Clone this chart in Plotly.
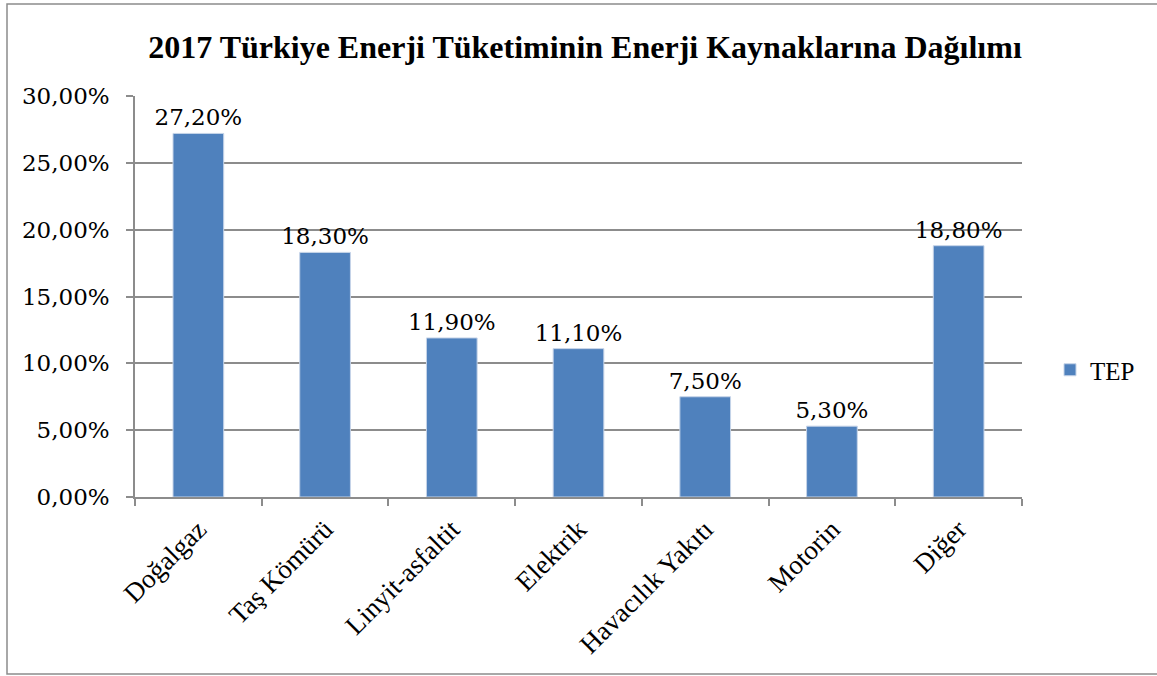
import plotly.graph_objects as go

categories = ["Doğalgaz", "Taş Kömürü", "Linyit-asfaltit", "Elektrik", "Havacılık Yakıtı", "Motorin", "Diğer"]
values = [27.2, 18.3, 11.9, 11.1, 7.5, 5.3, 18.8]
series_name = "TEP"
title_text = "2017 Türkiye Enerji Tüketiminin Enerji Kaynaklarına Dağılımı"
y_ticks = [0, 5, 10, 15, 20, 25, 30]
y_ticktext = [f"{v:.2f}%".replace(".", ",") for v in y_ticks]

W, H = 1157, 676
L, R, T, B = 135, 1022, 96, 497
pw, ph = R - L, B - T

def px(x):
    return (x - L) / pw

def py(y):
    return (B - y) / ph

serif = "Liberation Serif, Times New Roman, serif"
numfont = "DejaVu Serif, serif"

fig = go.Figure()
fig.add_trace(go.Bar(
    x=categories, y=values, name=series_name,
    marker=dict(color="#4f81bd", line=dict(color="#c6d4e8", width=1)),
    texttemplate="%{y:.2f}%", textposition="outside",
    textfont=dict(family=numfont, size=23, color="#000000"),
    constraintext="none",
    cliponaxis=False, width=0.4,
))

fig.update_layout(
    width=W, height=H,
    margin=dict(l=L, r=W - R, t=T, b=H - B),
    paper_bgcolor="white", plot_bgcolor="white",
    separators=",.",
    title=dict(text="<b>" + title_text + "</b>", x=585 / W, xanchor="center",
               y=1 - 47 / H, yanchor="middle",
               font=dict(family=serif, size=32, color="#000000")),
    showlegend=True,
    legend=dict(x=px(1050), y=py(370), xanchor="left", yanchor="middle",
                font=dict(family=serif, size=25, color="#000000"),
                bgcolor="rgba(0,0,0,0)"),
    bargap=0.6,
    shapes=[dict(type="rect", xref="paper", yref="paper",
                 x0=px(7), x1=px(1165), y0=py(674), y1=py(4),
                 line=dict(color="#8c8c8c", width=1.5), layer="below")],
)

fig.update_xaxes(
    showline=True, linecolor="#8c8c8c", linewidth=1.5,
    ticks="outside", ticklen=7, tickcolor="#8c8c8c", tickwidth=1.5,
    tickson="boundaries", tickangle=-45,
    ticklabelstandoff=4,
    tickfont=dict(family=serif, size=27, color="#000000"),
    showgrid=False,
)
fig.update_yaxes(
    range=[0, 30], tickvals=y_ticks, ticktext=y_ticktext,
    showline=True, linecolor="#8c8c8c", linewidth=1.5,
    ticks="outside", ticklen=7, tickcolor="#8c8c8c", tickwidth=1.5,
    ticklabelstandoff=12,
    showgrid=True, gridcolor="#8c8c8c", gridwidth=1.5,
    tickfont=dict(family=numfont, size=23, color="#000000"),
    zeroline=False,
)

fig.write_html("out.html", config={"displayModeBar": False},
               post_script="document.body.style.margin='0';document.body.style.overflow='hidden';")
